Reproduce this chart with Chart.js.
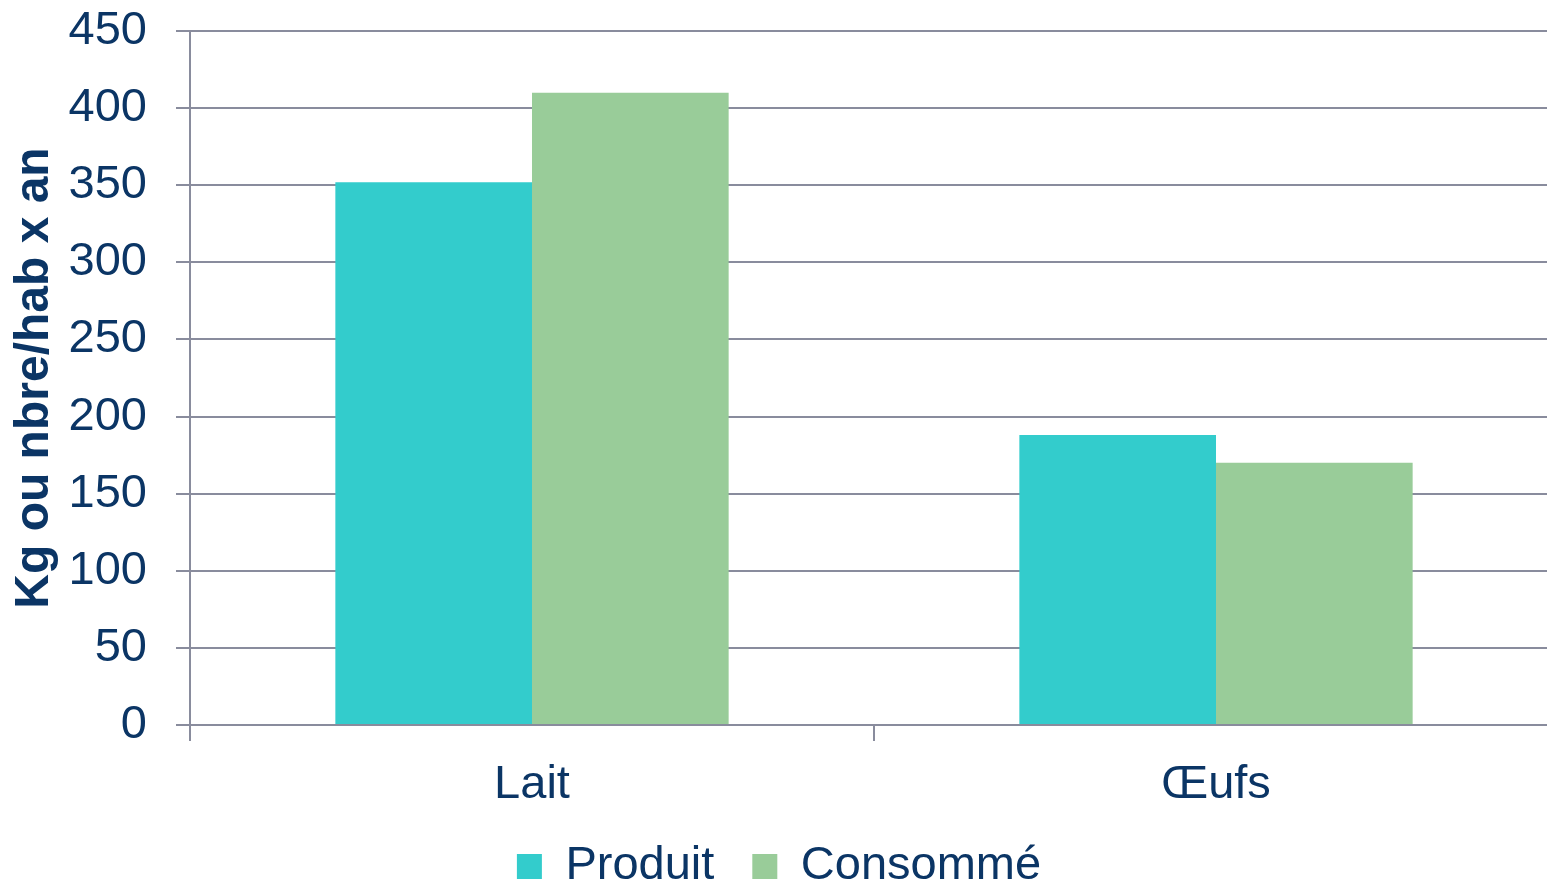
<!DOCTYPE html>
<html>
<head>
<meta charset="utf-8">
<script src="https://cdn.jsdelivr.net/npm/chart.js@4"></script>
<style>
  html, body { margin: 0; padding: 0; background: #ffffff; overflow: hidden; }
  #wrap { width: 1547px; height: 883px; overflow: hidden; }
  canvas { display: block; }
</style>
</head>
<body>
<div id="wrap"><canvas id="c" width="1558" height="883"></canvas></div>
<script>
const categories = ['Lait', 'Œufs'];
const seriesNames = ['Produit', 'Consommé'];
const produit = [352, 188];
const consomme = [410, 170];
const yTicks = [0, 50, 100, 150, 200, 250, 300, 350, 400, 450];
const yTitle = 'Kg ou nbre/hab x an';

const textColor = '#0b3565';
const gridColor = '#898c9d';
const fontFamily = '"Liberation Sans", Arial, sans-serif';

new Chart(document.getElementById('c'), {
  type: 'bar',
  data: {
    labels: categories,
    datasets: [
      { label: seriesNames[0], data: produit, backgroundColor: '#33CCCC', borderWidth: 0 },
      { label: seriesNames[1], data: consomme, backgroundColor: '#99CC99', borderWidth: 0 }
    ]
  },
  options: {
    responsive: false,
    animation: false,
    events: [],
    datasets: { bar: { categoryPercentage: 0.575, barPercentage: 1.0 } },
    layout: { padding: { top: 31, right: 0, bottom: -17, left: 0 } },
    plugins: {
      tooltip: { enabled: false },
      legend: {
        position: 'bottom',
        labels: {
          color: textColor,
          font: { family: fontFamily, size: 47 },
          boxWidth: 25,
          boxHeight: 25,
          padding: 38
        }
      }
    },
    scales: {
      x: {
        afterFit: (s) => { s.height = 80; },
        grid: { display: true, offset: true, drawOnChartArea: false, drawTicks: true, tickLength: 16, color: gridColor, lineWidth: 2 },
        border: { display: true, color: gridColor, width: 2 },
        ticks: { color: textColor, font: { family: fontFamily, size: 47 }, padding: 16 }
      },
      y: {
        min: 0,
        max: 450,
        afterFit: (s) => { s.width = 190; s.paddingTop = 0; s.paddingBottom = 0; },
        afterBuildTicks: (s) => { s.ticks = yTicks.map(v => ({ value: v })); },
        grid: { color: gridColor, lineWidth: 2, tickLength: 14, drawTicks: true },
        border: { display: true, color: gridColor, width: 2 },
        ticks: { color: textColor, font: { family: fontFamily, size: 47 }, padding: 29, stepSize: 50 },
        title: {
          display: true,
          text: yTitle,
          color: textColor,
          font: { family: fontFamily, size: 48, weight: 'bold' },
          padding: { top: 6, bottom: 0 }
        }
      }
    }
  }
});
</script>
</body>
</html>
